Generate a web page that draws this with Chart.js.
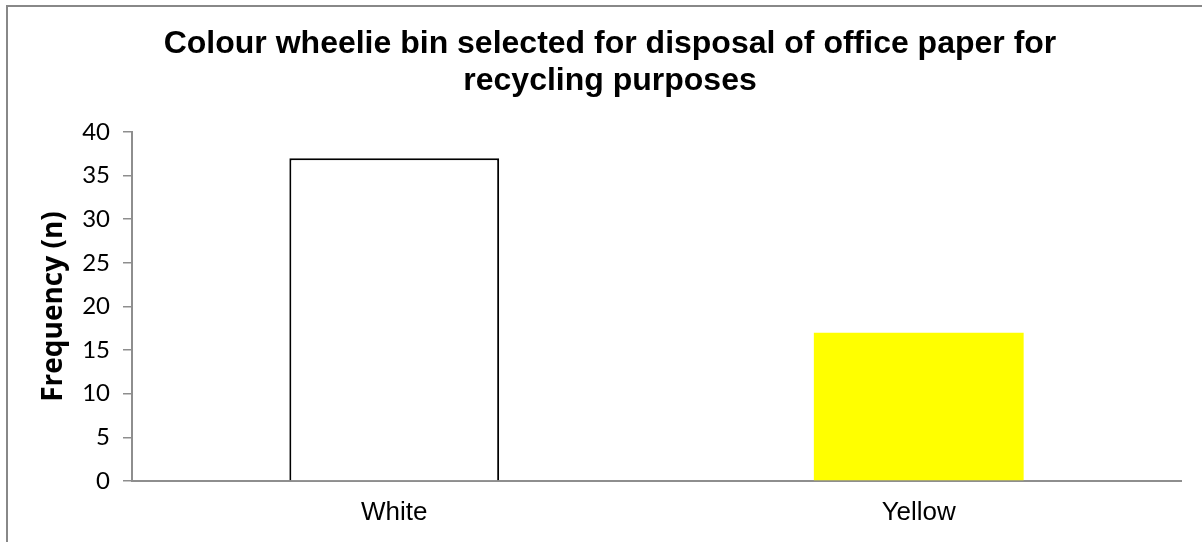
<!DOCTYPE html>
<html>
<head>
<meta charset="utf-8">
<script src="https://cdn.jsdelivr.net/npm/chart.js@4.4.1/dist/chart.umd.min.js"></script>
<style>
  html, body { margin: 0; padding: 0; background: #fff; overflow: hidden; }
  #wrap { position: absolute; left: 0; top: 0; width: 1214px; height: 560px; }
</style>
</head>
<body>
<div id="wrap"><canvas id="binChart"></canvas></div>
<script>
// Data
const categories = ['White', 'Yellow'];
const frequencies = [37, 17];
const barFills = ['#ffffff', '#ffff00'];
const barEdges = ['#000000', '#ffff00'];
const barEdgeWidths = [2, 0];
const yTicks = { min: 0, max: 40, step: 5 };
const chartTitle = ['Colour wheelie bin selected for disposal of office paper for', 'recycling purposes'];
const yAxisTitle = 'Frequency (n)';

const AXIS_GREY = '#8e8e8e';

// outer frame round the whole chart
const framePlugin = {
    id: 'frame',
    beforeDraw(chart) {
        const ctx = chart.ctx;
        ctx.save();
        ctx.fillStyle = '#ffffff';
        ctx.fillRect(0, 0, chart.width, chart.height);
        ctx.strokeStyle = '#888888';
        ctx.lineWidth = 2;
        ctx.strokeRect(7, 6, chart.width - 14, chart.height - 12);
        ctx.restore();
    }
};

const ctx = document.getElementById('binChart').getContext('2d');
const myChart = new Chart(ctx, {
    type: 'bar',
    data: {
        labels: categories,
        datasets: [{
            data: frequencies,
            backgroundColor: barFills,
            borderColor: barEdges,
            borderWidth: barEdgeWidths,
            borderSkipped: 'start',
            barPercentage: 0.4,
            categoryPercentage: 1.0
        }]
    },
    options: {
        responsive: true,
        maintainAspectRatio: false,
        animation: false,
        layout: { padding: { left: 39, right: 33, top: 0, bottom: 19 } },
        plugins: {
            legend: { display: false },
            tooltip: { enabled: false },
            title: {
                display: true,
                text: chartTitle,
                color: '#000000',
                font: { family: '"Liberation Sans", Arial, sans-serif', size: 32, weight: 'bold', lineHeight: 1.156 },
                padding: { top: 25.5, bottom: 32.5 }
            }
        },
        scales: {
            x: {
                grid: { display: false, drawTicks: false },
                border: { display: true, color: AXIS_GREY, width: 2 },
                ticks: {
                    color: '#000000',
                    padding: 16,
                    font: { family: '"Liberation Sans", Arial, sans-serif', size: 26 }
                },
                afterFit(scale) { scale.height = 60; }
            },
            y: {
                min: yTicks.min,
                max: yTicks.max,
                ticks: {
                    stepSize: yTicks.step,
                    color: '#000000',
                    padding: 13,
                    font: { family: 'Lato, sans-serif', size: 24 }
                },
                grid: {
                    drawOnChartArea: false,
                    drawTicks: true,
                    tickLength: 9,
                    color: AXIS_GREY,
                    lineWidth: 1.5
                },
                border: { display: true, color: AXIS_GREY, width: 2 },
                title: {
                    display: true,
                    text: yAxisTitle,
                    color: '#000000',
                    padding: { top: 0, bottom: 0 },
                    font: { family: '"Open Sans", sans-serif', size: 28, weight: 'bold', lineHeight: 1.06 }
                },
                afterFit(scale) { scale.width = 93; }
            }
        }
    },
    plugins: [framePlugin]
});
</script>
</body>
</html>
